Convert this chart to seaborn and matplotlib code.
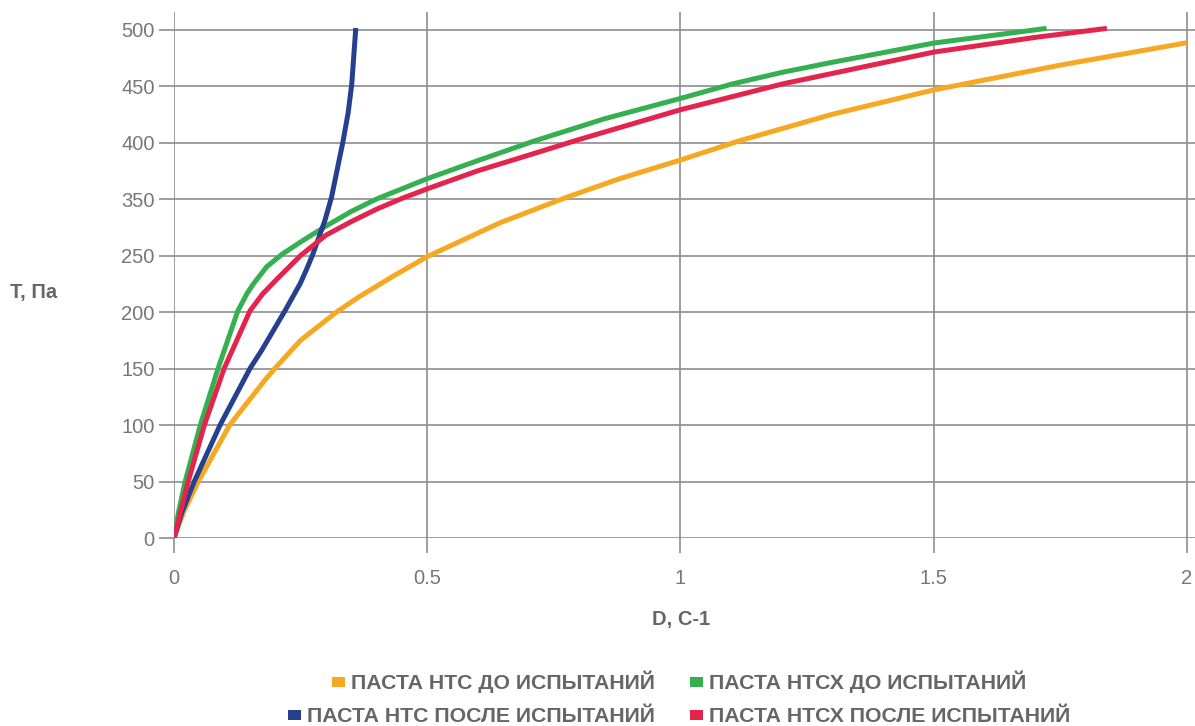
import pandas as pd
import matplotlib.pyplot as plt
import seaborn as sns
from matplotlib.patches import Patch

# Данные кривых (D, с-1 -> положение по оси T)
orange_x = [0, 0.02, 0.048, 0.11, 0.18, 0.199, 0.25, 0.321, 0.364, 0.43, 0.5, 0.644, 0.775, 0.88, 1.0, 1.117, 1.3, 1.5, 1.75, 2.0]
orange_y = [0, 24, 50, 100, 140, 150, 175, 200, 213, 231, 249, 279, 301.5, 318, 334.5, 351.6, 375, 396.5, 418.5, 438.3]

green_x = [0, 0.0085, 0.022, 0.052, 0.087, 0.126, 0.145, 0.157, 0.183, 0.213, 0.25, 0.3, 0.35, 0.4, 0.5, 0.6, 0.709, 0.85, 1.0, 1.104, 1.2, 1.3, 1.5, 1.723]
green_y = [0, 22, 50, 100, 150, 201, 217, 225, 240, 251, 262, 276, 289, 300, 318, 334, 351, 371, 389, 402, 412, 421, 438, 451]

red_x = [0, 0.028, 0.06, 0.099, 0.150, 0.175, 0.203, 0.25, 0.3, 0.35, 0.4, 0.45, 0.5, 0.6, 0.709, 0.795, 1.0, 1.203, 1.5, 1.7, 1.842]
red_y = [0, 50, 100, 150, 201, 216, 229, 250, 268, 280, 291, 300.5, 309, 325, 340, 352, 379, 402, 430, 443, 451]

blue_x = [0, 0.015, 0.04, 0.091, 0.150, 0.173, 0.219, 0.249, 0.262, 0.274, 0.298, 0.311, 0.334, 0.344, 0.351, 0.355, 0.359]
blue_y = [0, 22, 50, 100, 150, 166, 201, 225, 238, 251, 281, 301.5, 351.6, 376.7, 401.8, 426.8, 451.3]

names = ['ПАСТА НТС ДО ИСПЫТАНИЙ', 'ПАСТА НТСХ ДО ИСПЫТАНИЙ',
         'ПАСТА НТС ПОСЛЕ ИСПЫТАНИЙ', 'ПАСТА НТСХ ПОСЛЕ ИСПЫТАНИЙ']
colors = ['#F7A823', '#35B050', '#24408E', '#E4244C']

y_ticks = [0, 50, 100, 150, 200, 250, 300, 350, 400, 450]
y_labels = ['0', '50', '100', '150', '200', '250', '350', '400', '450', '500']
x_ticks = [0, 0.5, 1, 1.5, 2]
x_labels = ['0', '0.5', '1', '1.5', '2']

frames = []
for name, xs, ys in zip(names, [orange_x, green_x, blue_x, red_x], [orange_y, green_y, blue_y, red_y]):
    frames.append(pd.DataFrame({'D': xs, 'T': ys, 'serie': name}))
df = pd.concat(frames, ignore_index=True)

sns.set_style('white')
plt.rcParams['font.family'] = ['Liberation Sans', 'DejaVu Sans']

fig = plt.figure(figsize=(11.95, 7.26), dpi=100)
ax = fig.add_axes([174 / 1195, 188 / 726, 1021 / 1195, 526 / 726])

sns.lineplot(data=df, x='D', y='T', hue='serie', hue_order=names, palette=colors,
             estimator=None, sort=False, linewidth=3.6, legend=False, ax=ax, zorder=3,
             solid_capstyle='butt', solid_joinstyle='round')

ax.set_xlim(0, 2.016)
ax.set_ylim(0, 465.5)
ax.set_xticks(x_ticks)
ax.set_xticklabels(x_labels)
ax.set_yticks(y_ticks)
ax.set_yticklabels(y_labels)
ax.grid(True, color='#8e8e8e', linewidth=1.2)
ax.tick_params(axis='x', bottom=True, length=11, width=1.2, color='#8e8e8e', pad=11.5,
               labelsize=14.5, labelcolor='#777777')
ax.tick_params(axis='y', left=True, length=11, width=1.2, color='#8e8e8e', pad=3,
               labelsize=14.5, labelcolor='#777777')
for s in ax.spines.values():
    s.set_visible(False)
ax.set_xlabel('')
ax.set_ylabel('')

# Подписи осей
fig.text(10 / 1195, 1 - 292 / 726, 'T, Па', fontsize=14.5, fontweight='bold', color='#666666',
         ha='left', va='center')
fig.text(681 / 1195, 1 - 620 / 726, 'D, С-1', fontsize=14.5, fontweight='bold', color='#666666',
         ha='center', va='center')

# Легенда: две строки, каждая по центру
rows = [(0, 1, 682), (2, 3, 717)]
for a, b, ypix in rows:
    handles = [Patch(facecolor=colors[a], edgecolor='none'), Patch(facecolor=colors[b], edgecolor='none')]
    leg = fig.legend(handles, [names[a], names[b]], loc='center', ncol=2,
                     bbox_to_anchor=(679 / 1195, 1 - ypix / 726), frameon=False,
                     prop={'size': 15.3, 'weight': 'bold'}, handlelength=0.6, handleheight=0.36,
                     handletextpad=0.3, columnspacing=1.65, borderpad=0, borderaxespad=0)
    for t in leg.get_texts():
        t.set_color('#666666')

fig.savefig('out.png', dpi=100)
